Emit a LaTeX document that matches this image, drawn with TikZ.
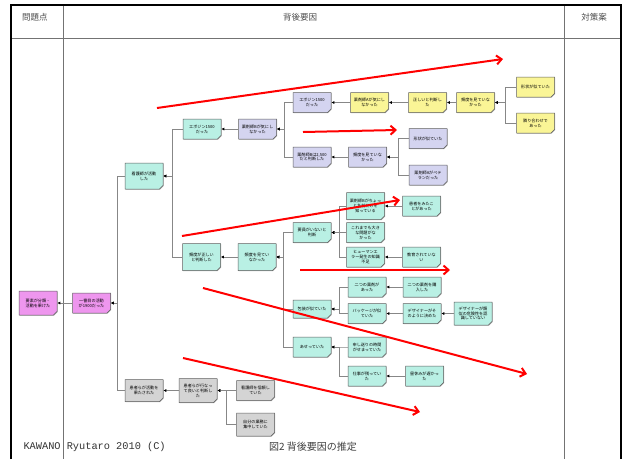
\documentclass[tikz,border=0pt]{standalone}
\usepackage{fontspec}
\newfontfamily\jp{Noto Sans CJK JP}
\newfontfamily\mono{Liberation Mono}
\usetikzlibrary{shapes.misc,arrows.meta,shadows}

\definecolor{cpink}{RGB}{238,150,238}
\definecolor{ccyan}{RGB}{185,240,228}
\definecolor{clav}{RGB}{212,212,240}
\definecolor{cyel}{RGB}{250,245,150}
\definecolor{cgray}{RGB}{212,212,212}
\definecolor{cline}{RGB}{135,135,135}
\definecolor{cedge}{RGB}{95,95,95}

\tikzset{
 box/.style={chamfered rectangle, chamfered rectangle corners=south east,
   chamfered rectangle xsep=1.8pt, chamfered rectangle ysep=1.8pt,
   draw=cedge, line width=0.5pt, minimum width=38pt, minimum height=20pt,
   inner sep=1pt, align=center, font=\jp\fontsize{4.1}{4.9}\selectfont, text=black,
   drop shadow={shadow xshift=0.6pt,shadow yshift=-0.6pt,fill=black!45,opacity=0.7}},
 pk/.style={box,fill=cpink},
 cy/.style={box,fill=ccyan},
 lv/.style={box,fill=clav},
 yl/.style={box,fill=cyel},
 gy/.style={box,fill=cgray},
 conn/.style={draw=cline, line width=0.8pt, -{Latex[length=3pt,width=3pt,color=black]}},
 redarrow/.style={draw=red, line width=2pt, -{Straight Barb[length=5pt,width=9pt]}},
 frame/.style={draw=black, line width=2.5pt},
 grid/.style={draw=black!55, line width=0.8pt},
 head/.style={font=\jp\fontsize{8.5}{10}\selectfont, text=black!70},
}

\begin{document}
\begin{tikzpicture}[x=1pt,y=-1pt]
\useasboundingbox (0,0) rectangle (625,459);
\fill[white] (0,0) rectangle (625,459);

% frame
\draw[grid] (11,38) -- (621,38);
\draw[grid] (63,5) -- (63,459);
\draw[grid] (564,5) -- (564,459);
\draw[frame] (11,459) -- (11,5) -- (621,5) -- (621,459);

\node[head] (h1) at (35,17) {問題点};
\node[head] (h2) at (300,17) {背後要因};
\node[head] (h3) at (594,17) {対策案};

% nodes
\node[pk, minimum height=24pt] (R) at (38,303) {要素が分類・\\活動を果けた};
\node[pk] (L1) at (91.5,303) {一番目の活動\\が1900だった};
\node[cy, minimum height=26pt] (A) at (144,176) {看護師が活動\\した};
\node[gy, minimum height=22pt] (G) at (144,390.5) {患者らが活動を\\果たされた};
\node[cy] (B1) at (202,129) {エポジン1500\\だった};
\node[cy, minimum height=27pt] (B2) at (201.5,257) {頻度が正しい\\と判断した};
\node[lv] (C1) at (257.5,129) {薬剤師Bが気にし\\なかった};
\node[lv] (D1) at (312,102.5) {エポジン1500\\だった};
\node[yl] (E1) at (369.5,102.5) {薬剤師Aが気にし\\なかった};
\node[yl] (F1) at (427.5,102.5) {正しいと判断し\\た};
\node[yl] (G1) at (475.5,102.5) {頻度を見ていな\\かった};
\node[yl] (H1) at (535.5,87) {形状が似ていた};
\node[yl] (H2) at (535.5,123) {隣り合わせで\\あった};
\node[lv] (D2) at (312,157) {薬剤師Bは2,500\\だと判断した};
\node[lv] (E2) at (367.5,157) {頻度を見ていな\\かった};
\node[lv] (F2) at (428,138.5) {形状が似ていた};
\node[lv] (F3) at (428,175) {薬剤師Aがベテ\\ランだった};
\node[cy, minimum height=27pt] (C2) at (257,257) {頻度を見てい\\なかった};
\node[cy] (D3) at (312,232.5) {要員がいないと\\判断};
\node[cy, minimum height=27pt] (E3) at (365.5,206) {薬剤師Bがちょっ\\と名前だけを\\知っている};
\node[cy] (F4) at (421.5,206) {患者をみたこ\\とがあった};
\node[cy] (E4) at (365.5,232.5) {これまでも大き\\な問題がな\\かった};
\node[cy] (E5) at (365.5,257) {ヒューマンエ\\ラー発生の知識\\不足};
\node[cy] (F5) at (421.5,257) {教育されていな\\い};
\node[cy, minimum height=18pt] (D4) at (312,309) {包装が似ていた};
\node[cy] (E6) at (367,287) {二つの薬剤が\\あった};
\node[cy] (F6) at (422,287) {二つの薬剤を購\\入した};
\node[cy] (E7) at (367,313.5) {パッケージが似\\ていた};
\node[cy] (F7) at (422,313.5) {デザイナーがそ\\のように決めた};
\node[cy, minimum height=23pt] (G7) at (473,313.5) {デザイナーが類\\似の危険性を認\\識していない};
\node[cy] (D5) at (312,347) {あせっていた};
\node[cy] (E8) at (367,347) {申し送りの時間\\がせまっていた};
\node[cy] (E9) at (367,376) {仕事が残ってい\\た};
\node[cy] (F9) at (424.5,376) {昼休みが遅かっ\\た};
\node[gy, minimum height=24pt] (H) at (198,390.5) {患者らが行なっ\\て良いと判断し\\た};
\node[gy] (I1) at (255.5,390.5) {看護師を信頼し\\ていた};
\node[gy, minimum height=23pt] (I2) at (255.5,424.5) {自分の業務に\\集中していた};

% trunk points
\coordinate (tL1) at (117,303);
\coordinate (tA) at (172,176);
\coordinate (tC1) at (284,129);
\coordinate (tG1) at (505,102.5);
\coordinate (tE2) at (398,157);
\coordinate (tC2) at (283,257);
\coordinate (tD3) at (339,232.5);
\coordinate (tD4) at (339,309);
\coordinate (tD5) at (339,347);
\coordinate (tH) at (226,390.5);

% connectors
\draw[conn] (L1.west) -- (R.east);
\draw[conn] (A.west) -| (tL1) -- (L1.east);
\draw[conn] (G.west) -| (tL1) -- (L1.east);
\draw[conn] (B1.west) -| (tA) -- (A.east);
\draw[conn] (B2.west) -| (tA) -- (A.east);
\draw[conn] (C1.west) -- (B1.east);
\draw[conn] (D1.west) -| (tC1) -- (C1.east);
\draw[conn] (D2.west) -| (tC1) -- (C1.east);
\draw[conn] (E1.west) -- (D1.east);
\draw[conn] (F1.west) -- (E1.east);
\draw[conn] (G1.west) -- (F1.east);
\draw[conn] (H1.west) -| (tG1) -- (G1.east);
\draw[conn] (H2.west) -| (tG1) -- (G1.east);
\draw[conn] (E2.west) -- (D2.east);
\draw[conn] (F2.west) -| (tE2) -- (E2.east);
\draw[conn] (F3.west) -| (tE2) -- (E2.east);
\draw[conn] (C2.west) -- (B2.east);
\draw[conn] (D3.west) -| (tC2) -- (C2.east);
\draw[conn] (D4.west) -| (tC2) -- (C2.east);
\draw[conn] (D5.west) -| (tC2) -- (C2.east);
\draw[conn] (E3.west) -| (tD3) -- (D3.east);
\draw[conn] (E4.west) -| (tD3) -- (D3.east);
\draw[conn] (E5.west) -| (tD3) -- (D3.east);
\draw[conn] (F4.west) -- (E3.east);
\draw[conn] (F5.west) -- (E5.east);
\draw[conn] (E6.west) -| (tD4) -- (D4.east);
\draw[conn] (E7.west) -| (tD4) -- (D4.east);
\draw[conn] (F6.west) -- (E6.east);
\draw[conn] (F7.west) -- (E7.east);
\draw[conn] (G7.west) -- (F7.east);
\draw[conn] (E8.west) -| (tD5) -- (D5.east);
\draw[conn] (E9.west) -| (tD5) -- (D5.east);
\draw[conn] (F9.west) -- (E9.east);
\draw[conn] (H.west) -- (G.east);
\draw[conn] (I1.west) -| (tH) -- (H.east);
\draw[conn] (I2.west) -| (tH) -- (H.east);

% footer
\node[font=\mono\fontsize{10.3}{12}\selectfont, text=black!80, anchor=west] (ft1) at (20,447) {KAWANO Ryutaro 2010 (C)};
\node[font=\jp\fontsize{10}{12}\selectfont, text=black!75] (ft2) at (313,447) {図2 背後要因の推定};

% red annotation arrows
\coordinate (r1a) at (157,108); \coordinate (r1b) at (503,59);
\coordinate (r2a) at (303,132); \coordinate (r2b) at (397,130);
\coordinate (r3a) at (182,236); \coordinate (r3b) at (400,200);
\coordinate (r4a) at (300,270); \coordinate (r4b) at (450,270);
\coordinate (r5a) at (203,288); \coordinate (r5b) at (527,374);
\coordinate (r6a) at (183,358); \coordinate (r6b) at (420,412);
\draw[redarrow] (r1a) -- (r1b);
\draw[redarrow] (r2a) -- (r2b);
\draw[redarrow] (r3a) -- (r3b);
\draw[redarrow] (r4a) -- (r4b);
\draw[redarrow] (r5a) -- (r5b);
\draw[redarrow] (r6a) -- (r6b);
\end{tikzpicture}
\end{document}
